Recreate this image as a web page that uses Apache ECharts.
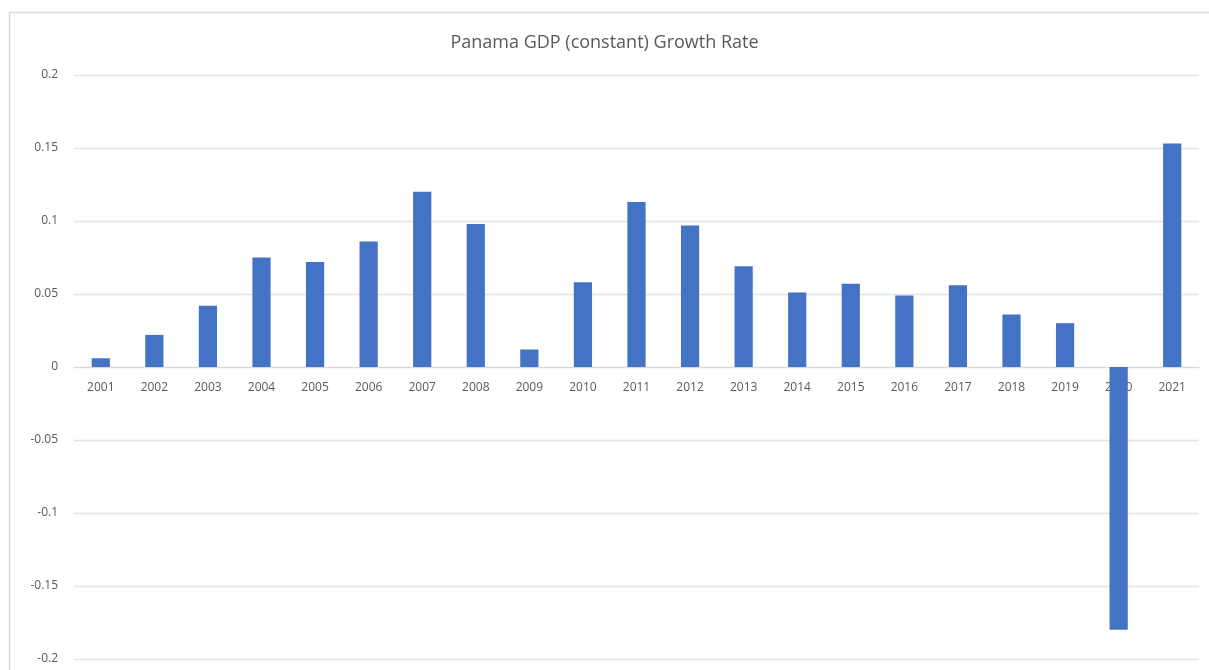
<!DOCTYPE html>
<html><head><meta charset="utf-8">
<script src="https://cdn.jsdelivr.net/npm/echarts@6/dist/echarts.min.js"></script>
<style>html,body{margin:0;padding:0;background:#fff}#c{width:1209px;height:670px}</style>
</head><body><div id="c"></div>
<script>
const years = ['2001','2002','2003','2004','2005','2006','2007','2008','2009','2010','2011','2012','2013','2014','2015','2016','2017','2018','2019','2020','2021'];
const growth = [0.006,0.022,0.042,0.075,0.072,0.086,0.120,0.098,0.012,0.058,0.113,0.097,0.069,0.051,0.057,0.049,0.056,0.036,0.030,-0.18,0.153];
const yTicks = {min:-0.2, max:0.2, interval:0.05};
const title = 'Panama GDP (constant) Growth Rate';

const chart = echarts.init(document.getElementById('c'));
const gridTop = 75, gridBottom = 11, H = 670;
const plotH = H - gridTop - gridBottom;
const zeroOffset = -plotH * (0 - yTicks.min) / (yTicks.max - yTicks.min);
chart.setOption({
  animation:false,
  title:{text:title,left:'center',top:29,textStyle:{fontFamily:'Open Sans, Liberation Sans, sans-serif',fontSize:18,fontWeight:'normal',color:'#595959'}},
  graphic:[{type:'rect',shape:{x:9.5,y:12.5,width:1215,height:680},style:{fill:null,stroke:'#d9d9d9',lineWidth:1.5},z:-1}],
  grid:{left:74,right:10,top:gridTop,bottom:gridBottom,containLabel:false,outerBoundsMode:'none'},
  xAxis:{type:'category',data:years,position:'bottom',offset:zeroOffset,
    axisLine:{onZero:false,lineStyle:{color:'#d9d9d9'}},axisTick:{show:false},
    axisLabel:{color:'#595959',fontSize:12,fontFamily:'Open Sans, Liberation Sans, sans-serif',margin:15,interval:0}},
  yAxis:{type:'value',min:yTicks.min,max:yTicks.max,interval:yTicks.interval,
    axisLine:{show:false},axisTick:{show:false},
    splitLine:{lineStyle:{color:'#e3e3e3',width:1.3}},
    axisLabel:{color:'#595959',fontSize:12,fontFamily:'Open Sans, Liberation Sans, sans-serif',margin:16,
      formatter:v=>{const r=Math.round(v*100)/100;return String(r);}}},
  series:[{type:'bar',data:growth,barWidth:'34%',itemStyle:{color:'#4472C4'}}]
});
</script></body></html>
